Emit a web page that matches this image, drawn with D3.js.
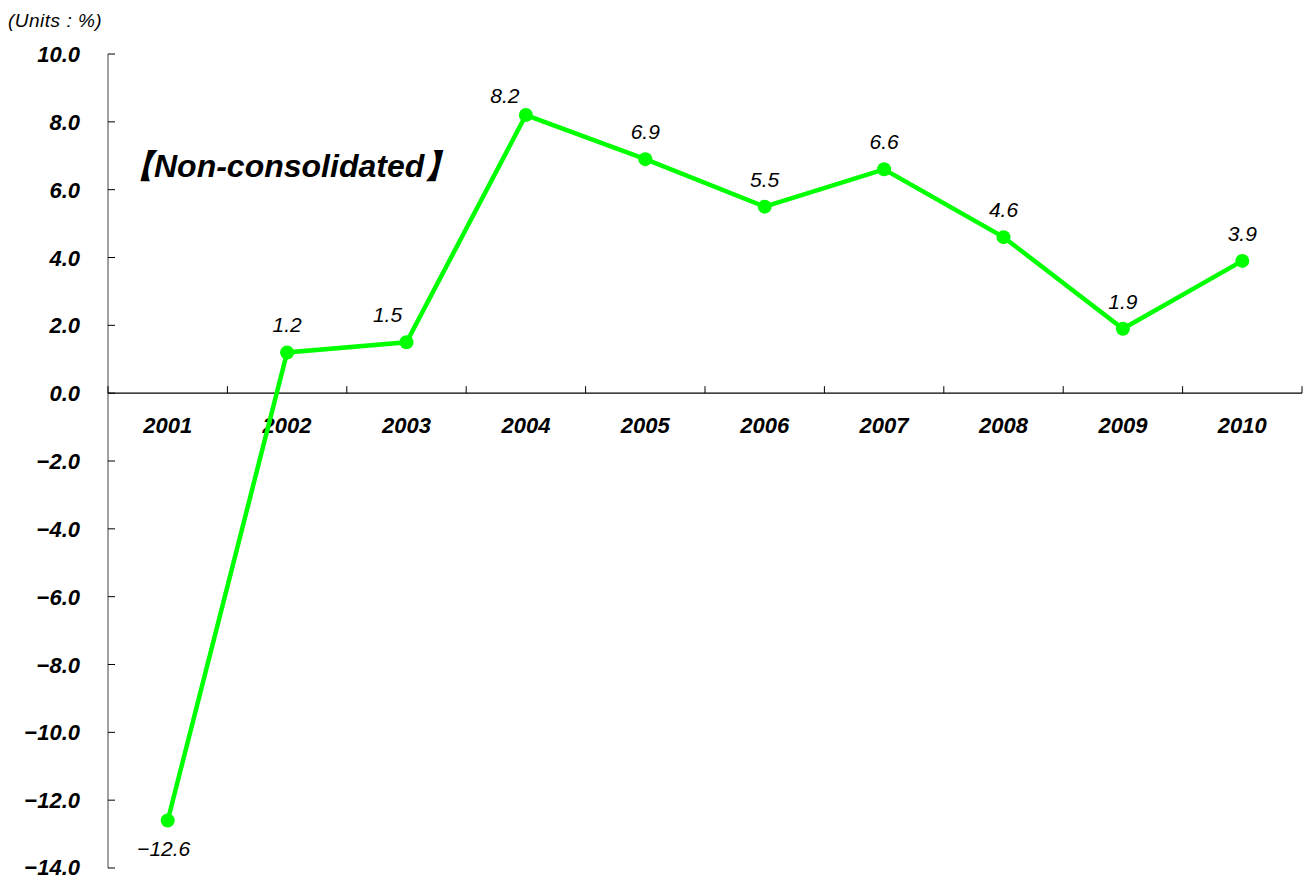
<!DOCTYPE html>
<html>
<head>
<meta charset="utf-8">
<script src="https://cdn.jsdelivr.net/npm/d3@7"></script>
<style>
  body { margin: 0; background: #fff; }
  text { font-family: "Liberation Sans", Arial, sans-serif; }
</style>
</head>
<body>
<div id="chart"></div>
<script>
const years = ["2001", "2002", "2003", "2004", "2005", "2006", "2007", "2008", "2009", "2010"];
const values = [-12.6, 1.2, 1.5, 8.2, 6.9, 5.5, 6.6, 4.6, 1.9, 3.9];
const yTicks = [10, 8, 6, 4, 2, 0, -2, -4, -6, -8, -10, -12, -14];

const width = 1307, height = 879;
const plotLeft = 108, plotRight = 1302, plotTop = 54, plotBottom = 868;

// a few labels sit up-left of their point so they don't touch the line
const labelNudge = { "2003": [-19, 0], "2004": [-21, 8] };

const svg = d3.select("#chart")
    .append("svg")
    .attr("width", width)
    .attr("height", height);

const x = d3.scaleBand().domain(years).range([plotLeft, plotRight]);
const y = d3.scaleLinear().domain([-14, 10]).range([plotBottom, plotTop]);
const cx = d => x(d) + x.bandwidth() / 2;
const fmt = d => (d < 0 ? "\u2212" : "") + Math.abs(d).toFixed(1);

// y axis
svg.append("line")
    .attr("x1", plotLeft).attr("x2", plotLeft)
    .attr("y1", y(10)).attr("y2", y(-14))
    .attr("stroke", "#808080").attr("stroke-width", 1.5);

svg.selectAll(".ytick")
    .data(yTicks)
    .enter()
    .append("line")
    .attr("x1", plotLeft).attr("x2", plotLeft + 7)
    .attr("y1", d => y(d)).attr("y2", d => y(d))
    .attr("stroke", "#000").attr("stroke-width", 1);

svg.selectAll(".ylab")
    .data(yTicks)
    .enter()
    .append("text")
    .attr("x", 80)
    .attr("y", d => Math.min(y(d) + 8, height - 4))
    .attr("text-anchor", "end")
    .attr("font-size", 22)
    .attr("font-weight", "bold")
    .attr("font-style", "italic")
    .text(fmt);

// x axis at zero
svg.append("line")
    .attr("x1", plotLeft).attr("x2", plotRight)
    .attr("y1", y(0)).attr("y2", y(0))
    .attr("stroke", "#000").attr("stroke-width", 1.2);

const xTickPos = years.map(d => x(d)).concat([plotRight]);
svg.selectAll(".xtick")
    .data(xTickPos)
    .enter()
    .append("line")
    .attr("x1", d => d).attr("x2", d => d)
    .attr("y1", y(0)).attr("y2", y(0) - 7)
    .attr("stroke", "#000").attr("stroke-width", 1);

svg.selectAll(".xlab")
    .data(years)
    .enter()
    .append("text")
    .attr("x", d => cx(d))
    .attr("y", y(0) + 40)
    .attr("text-anchor", "middle")
    .attr("font-size", 22)
    .attr("font-weight", "bold")
    .attr("font-style", "italic")
    .text(d => d);

// line
const line = d3.line()
    .x((d, i) => cx(years[i]))
    .y(d => y(d));

svg.append("path")
    .datum(values)
    .attr("fill", "none")
    .attr("stroke", "#00ff00")
    .attr("stroke-width", 4.5)
    .attr("d", line);

svg.selectAll(".pt")
    .data(values)
    .enter()
    .append("circle")
    .attr("cx", (d, i) => cx(years[i]))
    .attr("cy", d => y(d))
    .attr("r", 7)
    .attr("fill", "#00ff00");

svg.selectAll(".vlab")
    .data(values)
    .enter()
    .append("text")
    .attr("x", (d, i) => cx(years[i]) + (labelNudge[years[i]] || [0, 0])[0] - (d < 0 ? 4 : 0))
    .attr("y", (d, i) => (d < 0 ? y(d) + 35 : y(d) - 20) + (labelNudge[years[i]] || [0, 0])[1])
    .attr("text-anchor", "middle")
    .attr("font-size", 21)
    .attr("font-style", "italic")
    .text(fmt);

// titles
svg.append("text")
    .attr("x", 8).attr("y", 27)
    .attr("font-size", 19)
    .attr("font-style", "italic")
    .attr("letter-spacing", 0.5)
    .text("(Units : %)");

svg.append("text")
    .attr("x", 122).attr("y", 177)
    .attr("font-size", 32)
    .attr("font-weight", "bold")
    .attr("font-style", "italic")
    .text("【Non-consolidated】");
</script>
</body>
</html>
